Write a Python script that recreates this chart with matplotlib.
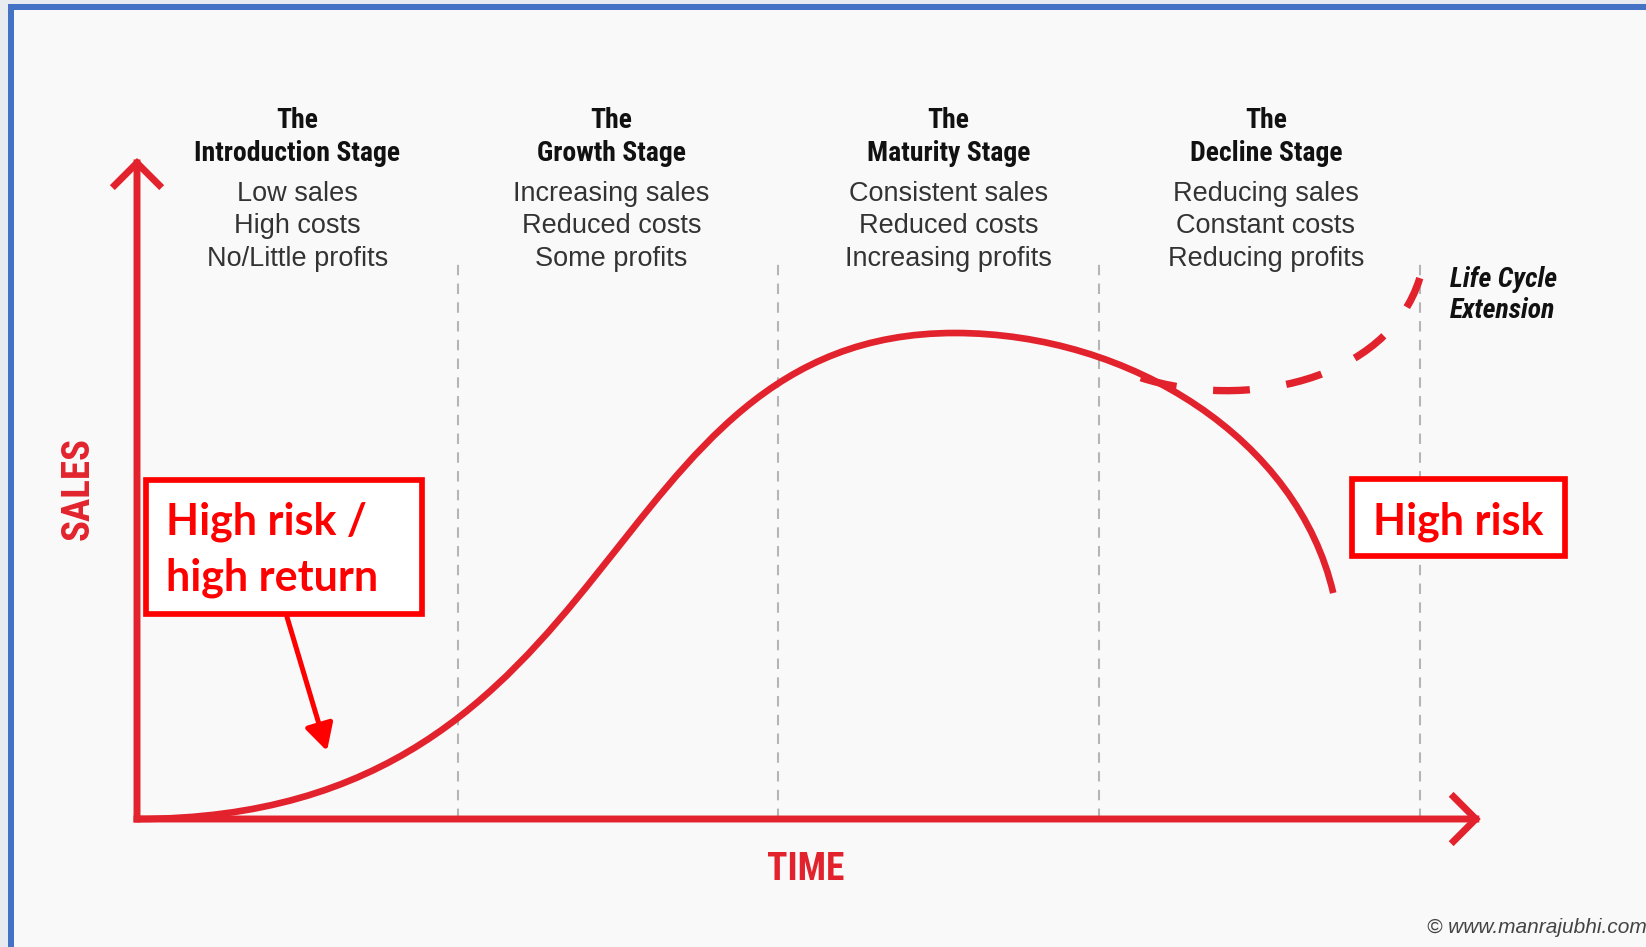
import matplotlib
matplotlib.use('Agg')
import matplotlib.pyplot as plt
from matplotlib.path import Path
from matplotlib.patches import PathPatch, Rectangle, FancyArrowPatch

RED = '#e2232d'
BOX_RED = '#ff0000'
NARROW = ['Roboto Condensed', 'Liberation Sans Narrow', 'Liberation Sans']

# stages along the time axis, one unit of time per stage
stage_titles = ['Introduction Stage', 'Growth Stage', 'Maturity Stage', 'Decline Stage']
stage_notes = [
    ['Low sales', 'High costs', 'No/Little profits'],
    ['Increasing sales', 'Reduced costs', 'Some profits'],
    ['Consistent sales', 'Reduced costs', 'Increasing profits'],
    ['Reducing sales', 'Constant costs', 'Reducing profits'],
]
stage_ends = [1, 2, 3, 4]
header_t = [0.50, 1.48, 2.53, 3.52]

# sales curve as cubic bezier: start, ctrl, ctrl, peak, ctrl, ctrl, end
curve_t = [0.0, 1.54, 1.42, 2.55, 3.10, 3.62, 3.73]
curve_s = [0.0, 0.0, 100.0, 100.0, 100.0, 78.0, 46.5]

# life cycle extension (dashed)
ext_t = [3.13, 3.45, 3.90, 4.00]
ext_s = [90.8, 84.0, 90.0, 111.3]

time_end = 4.19
sales_top = 136.0
divider_top = 114.6


def px(x, y):
    # reference pixel -> (time, sales)
    return ((x - 137) / 320.7, (819 - y) / 4.86)


fig = plt.figure(figsize=(16.46, 9.47), dpi=100)
fig.patch.set_facecolor('#f9f9f9')
ax = fig.add_axes([0, 0, 1, 1])
ax.set_xlim(-137 / 320.7, (1646 - 137) / 320.7)
ax.set_ylim((819 - 947) / 4.86, 819 / 4.86)
ax.axis('off')

# slide frame (grey margin + blue border on top and left)
W, H = 1646, 947
fig.add_artist(Rectangle((0, 0), 8 / W, 1, transform=fig.transFigure, color='#e8ebf0', lw=0))
fig.add_artist(Rectangle((0, 1 - 4 / H), 1, 4 / H, transform=fig.transFigure, color='#e8ebf0', lw=0))
fig.add_artist(Rectangle((8 / W, 1 - 10 / H), 1, 6 / H, transform=fig.transFigure, color='#4472c4', lw=0))
fig.add_artist(Rectangle((8 / W, 0), 6 / W, 1 - 4 / H, transform=fig.transFigure, color='#4472c4', lw=0))

# stage dividers
for t in stage_ends:
    ax.plot([t, t], [0, divider_top], color='#b5b5b5', lw=1.5, dashes=(5, 4), zorder=1)

# axes arrows
for tip in [(0, sales_top), (time_end, 0)]:
    arr = FancyArrowPatch((0, 0), tip, arrowstyle='->,head_length=16,head_width=16',
                          mutation_scale=1, lw=5, color=RED, shrinkA=0, shrinkB=0,
                          capstyle='projecting', joinstyle='miter', zorder=3)
    ax.add_patch(arr)

# main curve
codes = [Path.MOVETO] + [Path.CURVE4] * 6
ax.add_patch(PathPatch(Path(list(zip(curve_t, curve_s)), codes), fill=False,
                       edgecolor=RED, lw=4.8, capstyle='butt', zorder=4))

# extension
codes = [Path.MOVETO] + [Path.CURVE4] * 3
ax.add_patch(PathPatch(Path(list(zip(ext_t, ext_s)), codes), fill=False,
                       edgecolor=RED, lw=5.3, linestyle=(0, (5, 5)), capstyle='butt', zorder=4))

# stage headers
for i in range(4):
    t = header_t[i]
    ax.text(t, px(0, 128)[1], 'The', ha='center', va='baseline', fontsize=20,
            fontweight='bold', family=NARROW, color='#111111')
    ax.text(t, px(0, 161)[1], stage_titles[i], ha='center', va='baseline', fontsize=20,
            fontweight='bold', family=NARROW, color='#111111')
    for j, note in enumerate(stage_notes[i]):
        ax.text(t, px(0, [201, 233, 266][j])[1], note, ha='center', va='baseline',
                fontsize=19.5, family='Liberation Sans', color='#333333')

# axis titles
ax.text(*px(78, 488), 'SALES', rotation=90, ha='center', va='center', fontsize=28,
        fontweight='bold', family=NARROW, color=RED)
ax.text(*px(806, 880), 'TIME', ha='center', va='baseline', fontsize=27,
        fontweight='bold', family=NARROW, color=RED)

ax.text(*px(1450, 287), 'Life Cycle', ha='left', va='baseline', fontsize=20,
        fontweight='bold', style='italic', family=NARROW, color='#111111')
ax.text(*px(1450, 318), 'Extension', ha='left', va='baseline', fontsize=20,
        fontweight='bold', style='italic', family=NARROW, color='#111111')

ax.text(*px(1427, 933), '\u00a9 www.manrajubhi.com', ha='left', va='baseline', fontsize=15,
        style='italic', family='Liberation Sans', color='#444444')

# callout boxes
x0, y0 = px(146, 614)
ax.add_patch(Rectangle((x0, y0), 276 / 320.7, 134 / 4.86, facecolor='white',
                       edgecolor=BOX_RED, lw=4.1, zorder=5))
ax.text(*px(166, 534), 'High risk /', ha='left', va='baseline', fontsize=31,
        fontweight='bold', family='Lato', color=BOX_RED, zorder=6)
ax.text(*px(166, 590), 'high return', ha='left', va='baseline', fontsize=31,
        fontweight='bold', family='Lato', color=BOX_RED, zorder=6)

x0, y0 = px(1352, 556)
ax.add_patch(Rectangle((x0, y0), 213 / 320.7, 77 / 4.86, facecolor='white',
                       edgecolor=BOX_RED, lw=4.1, zorder=5))
ax.text(*px(1458, 534), 'High risk', ha='center', va='baseline', fontsize=31,
        fontweight='bold', family='Lato', color=BOX_RED, zorder=6)

ax.add_patch(FancyArrowPatch(px(287, 617), px(327, 751),
                             arrowstyle='-|>,head_length=16,head_width=8.6', mutation_scale=1,
                             lw=3.6, color=BOX_RED, shrinkA=0, shrinkB=0, zorder=5))

fig.savefig('out.png', dpi=100, facecolor=fig.get_facecolor())
